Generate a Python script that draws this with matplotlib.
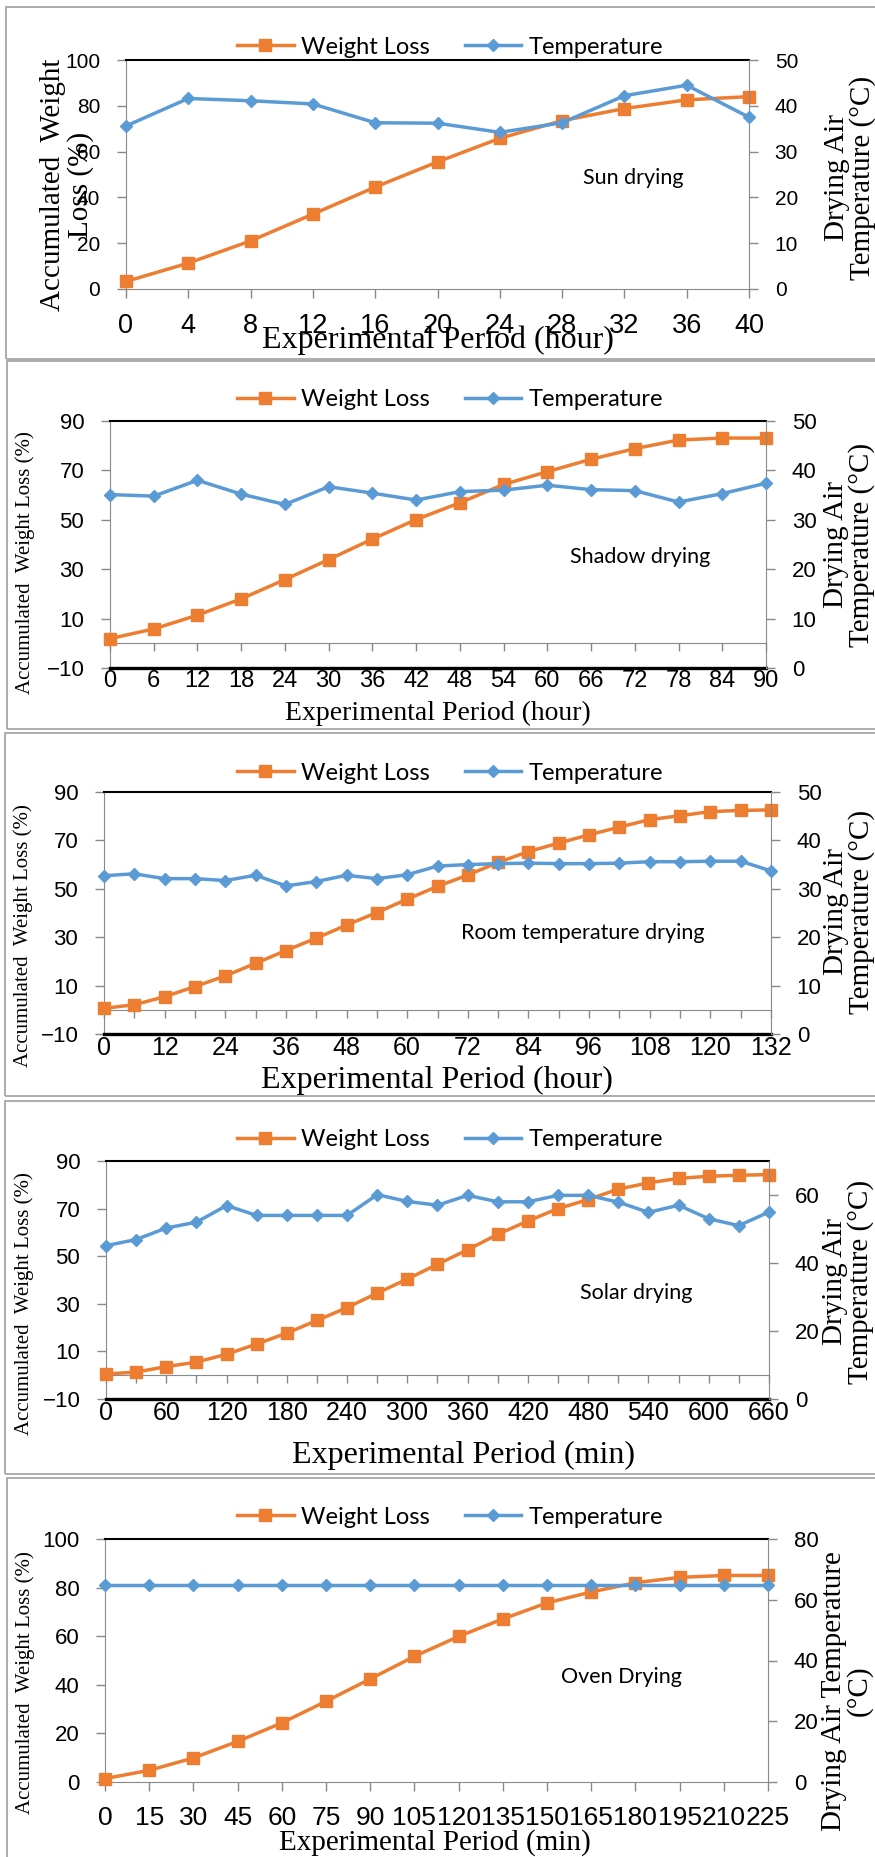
import matplotlib
matplotlib.use("Agg")
import matplotlib.pyplot as plt
from matplotlib.patches import Rectangle

W, H = 875, 1857
ORANGE = "#ED7D31"
BLUE = "#5B9BD5"
GREY = "#898989"

plt.rcParams["font.family"] = ["Liberation Sans", "DejaVu Sans"]

# ---- data ----
sun_x = [0, 4, 8, 12, 16, 20, 24, 28, 32, 36, 40]
sun_loss = [3.3, 11.3, 21.0, 32.7, 44.5, 55.5, 65.8, 73.5, 78.8, 82.6, 84.0]
sun_temp = [35.6, 41.6, 41.1, 40.4, 36.3, 36.2, 34.2, 36.3, 42.2, 44.5, 37.5]

shadow_x = [0, 6, 12, 18, 24, 30, 36, 42, 48, 54, 60, 66, 72, 78, 84, 90]
shadow_loss = [1.9, 5.8, 11.4, 18.0, 25.8, 33.9, 42.2, 50.1, 56.9, 64.3, 69.5,
               74.5, 78.8, 82.3, 83.1, 83.1]
shadow_temp = [35.1, 34.8, 38.0, 35.2, 33.1, 36.7, 35.4, 34.0, 35.7, 36.0, 37.0,
               36.1, 35.9, 33.6, 35.3, 37.4]

room_x = [0, 6, 12, 18, 24, 30, 36, 42, 48, 54, 60, 66, 72, 78, 84, 90, 96,
          102, 108, 114, 120, 126, 132]
room_loss = [0.6, 2.1, 5.4, 9.6, 14.0, 19.2, 24.5, 29.6, 35.0, 40.2, 45.7, 51.0,
             55.7, 60.9, 65.4, 68.9, 72.3, 75.5, 78.6, 80.2, 81.9, 82.4, 82.6]
room_temp = [32.7, 33.1, 32.1, 32.1, 31.7, 32.8, 30.6, 31.5, 32.8, 32.1, 32.9,
             34.7, 35.0, 35.2, 35.3, 35.2, 35.2, 35.3, 35.6, 35.6, 35.7, 35.7, 33.7]

solar_x = [0, 30, 60, 90, 120, 150, 180, 210, 240, 270, 300, 330, 360, 390,
           420, 450, 480, 510, 540, 570, 600, 630, 660]
solar_loss = [0.5, 1.3, 3.6, 5.5, 8.8, 13.1, 17.7, 23.0, 28.4, 34.5, 40.4, 46.6,
              52.7, 59.2, 64.8, 70.0, 73.8, 78.2, 80.8, 82.7, 83.6, 84.0, 84.3]
solar_temp = [45.1, 46.9, 50.3, 52.0, 56.9, 54.0, 54.0, 54.0, 54.0, 60.1, 58.1,
              57.0, 59.9, 58.0, 58.0, 59.9, 59.9, 57.9, 54.9, 57.0, 53.0, 51.0, 55.0]

oven_x = [0, 15, 30, 45, 60, 75, 90, 105, 120, 135, 150, 165, 180, 195, 210, 225]
oven_loss = [1.4, 4.8, 9.9, 16.7, 24.3, 33.2, 42.4, 51.7, 59.9, 67.1, 73.7,
             78.2, 82.0, 84.2, 85.0, 85.0]
oven_temp = [65, 65, 65, 65, 65, 65, 65, 65, 65, 65, 65, 65, 65, 65, 65, 65]

# ---- layout (pixel coords, origin top-left) ----
panels = [
    dict(x=sun_x, loss=sun_loss, temp=sun_temp, frame=(6, 7, 359),
         box=(126, 60, 749, 289), ylim=(0, 100), yticks=[0, 20, 40, 60, 80, 100],
         y2lim=(0, 50), y2ticks=[0, 10, 20, 30, 40, 50], every=1, neg=False,
         xts=19.5, yts=15, legend_y=47,
         xlab="Experimental Period (hour)", xlab_pos=(438, 340), xlab_size=23,
         ylab="Accumulated  Weight\nLoss (%)", ylab_pos=(67, 185), ylab_size=21,
         tlab="Drying Air\nTemperature (°C)", tlab_pos=(850, 178),
         note="Sun drying", note_pos=(633, 178)),
    dict(x=shadow_x, loss=shadow_loss, temp=shadow_temp, frame=(7, 361, 729),
         box=(110, 421, 766, 668), ylim=(-10, 90), yticks=[-10, 10, 30, 50, 70, 90],
         y2lim=(0, 50), y2ticks=[0, 10, 20, 30, 40, 50], every=1, neg=True,
         xts=17, yts=16, legend_y=400,
         xlab="Experimental Period (hour)", xlab_pos=(438, 713), xlab_size=20,
         ylab="Accumulated  Weight Loss (%)", ylab_pos=(25, 563), ylab_size=15,
         tlab="Drying Air\nTemperature (°C)", tlab_pos=(849, 545),
         note="Shadow drying", note_pos=(640, 557)),
    dict(x=room_x, loss=room_loss, temp=room_temp, frame=(5, 733, 1096),
         box=(104, 792, 771, 1034), ylim=(-10, 90), yticks=[-10, 10, 30, 50, 70, 90],
         y2lim=(0, 50), y2ticks=[0, 10, 20, 30, 40, 50], every=2, neg=True,
         xts=18, yts=16, legend_y=773,
         xlab="Experimental Period (hour)", xlab_pos=(437, 1080), xlab_size=23,
         ylab="Accumulated  Weight Loss (%)", ylab_pos=(23, 936), ylab_size=15,
         tlab="Drying Air\nTemperature (°C)", tlab_pos=(849, 912),
         note="Room temperature drying", note_pos=(583, 933)),
    dict(x=solar_x, loss=solar_loss, temp=solar_temp, frame=(5, 1101, 1474),
         box=(106, 1161, 769, 1399), ylim=(-10, 90), yticks=[-10, 10, 30, 50, 70, 90],
         y2lim=(0, 70), y2ticks=[0, 20, 40, 60], every=2, neg=True,
         xts=18, yts=16, legend_y=1140,
         xlab="Experimental Period (min)", xlab_pos=(463, 1455), xlab_size=23,
         ylab="Accumulated  Weight Loss (%)", ylab_pos=(24, 1304), ylab_size=15,
         tlab="Drying Air\nTemperature (°C)", tlab_pos=(848, 1282),
         note="Solar drying", note_pos=(636, 1293)),
    dict(x=oven_x, loss=oven_loss, temp=oven_temp, frame=(7, 1478, 1870),
         box=(105, 1539, 768, 1782), ylim=(0, 100), yticks=[0, 20, 40, 60, 80, 100],
         y2lim=(0, 80), y2ticks=[0, 20, 40, 60, 80], every=1, neg=False,
         xts=19, yts=16, legend_y=1517,
         xlab="Experimental Period (min)", xlab_pos=(435, 1843), xlab_size=21,
         ylab="Accumulated  Weight Loss (%)", ylab_pos=(25, 1683), ylab_size=15,
         tlab="Drying Air Temperature\n(°C)", tlab_pos=(847, 1691),
         note="Oven Drying", note_pos=(621, 1677)),
]


def fx(x):
    return x / W


def fy(y):
    return 1 - y / H


fig = plt.figure(figsize=(W / 100, H / 100), dpi=100)

for p in panels:
    x0, y0, y1 = p["frame"]
    fig.add_artist(Rectangle((fx(x0), fy(y1)), fx(900 - x0), (y1 - y0) / H,
                             transform=fig.transFigure, fill=False,
                             ec="#A6A6A6", lw=1.3))

    l, t, r, b = p["box"]
    ax = fig.add_axes([fx(l), fy(b), (r - l) / W, (b - t) / H])
    ax2 = ax.twinx()

    wl, = ax.plot(p["x"], p["loss"], color=ORANGE, lw=2.5, marker="s", ms=9,
                  clip_on=False, zorder=3, label="Weight Loss")
    tl, = ax2.plot(p["x"], p["temp"], color=BLUE, lw=2.5, marker="D", ms=6.5,
                   clip_on=False, zorder=3, label="Temperature")

    ax.set_xlim(p["x"][0], p["x"][-1])
    ax.set_ylim(*p["ylim"])
    ax.set_yticks(p["yticks"])
    ax2.set_ylim(*p["y2lim"])
    ax2.set_yticks(p["y2ticks"])
    ax.set_xticks(p["x"])
    ax.set_xticklabels([str(v) if i % p["every"] == 0 else ""
                        for i, v in enumerate(p["x"])])

    for s in ["left", "right", "top", "bottom"]:
        ax2.spines[s].set_visible(s == "right")
    ax2.spines["right"].set_color(GREY)
    ax.spines["right"].set_visible(False)
    ax.spines["left"].set_color(GREY)
    ax.spines["top"].set_color("black")
    ax.spines["top"].set_linewidth(1.5)

    ax.tick_params(axis="y", direction="out", length=6.5, width=1, color=GREY,
                   pad=12, labelsize=p["yts"])
    ax2.tick_params(axis="y", direction="out", length=6.5, width=1, color=GREY,
                    pad=12, labelsize=p["yts"])

    if p["neg"]:
        ax.spines["bottom"].set_color("black")
        ax.spines["bottom"].set_linewidth(2.4)
        ax.tick_params(axis="x", length=0, pad=1.5, labelsize=p["xts"])
        ylo, yhi = p["ylim"]
        sec = ax.secondary_xaxis((0 - ylo) / (yhi - ylo))
        sec.set_xticks(p["x"])
        sec.tick_params(axis="x", direction="out", length=6, width=1,
                        color=GREY, labelbottom=False, labeltop=False)
        for s in sec.spines.values():
            s.set_color(GREY)
    else:
        ax.spines["bottom"].set_color(GREY)
        ax.tick_params(axis="x", direction="out", length=6.5, width=1,
                       color=GREY, pad=10.5, labelsize=p["xts"])

    fig.text(fx(p["xlab_pos"][0]), fy(p["xlab_pos"][1]), p["xlab"],
             family="Liberation Serif", size=p["xlab_size"],
             ha="center", va="center")
    fig.text(fx(p["ylab_pos"][0]), fy(p["ylab_pos"][1]), p["ylab"],
             family="Liberation Serif", size=p["ylab_size"], rotation=90,
             ha="center", va="center", multialignment="center", linespacing=1.1)
    fig.text(fx(p["tlab_pos"][0]), fy(p["tlab_pos"][1]), p["tlab"],
             family="Liberation Serif", size=21, rotation=90,
             ha="center", va="center", multialignment="center", linespacing=0.95)
    fig.text(fx(p["note_pos"][0]), fy(p["note_pos"][1]), p["note"],
             family="Lato", size=15.5, ha="center", va="center")

    fig.legend([wl, tl], ["Weight Loss", "Temperature"], loc="center",
               bbox_to_anchor=(fx(450), fy(p["legend_y"])), ncol=2,
               frameon=False, prop={"family": "Lato", "size": 17},
               handlelength=2.4, handletextpad=0.3, columnspacing=1.5,
               borderpad=0)

fig.savefig("out.png", dpi=100)
